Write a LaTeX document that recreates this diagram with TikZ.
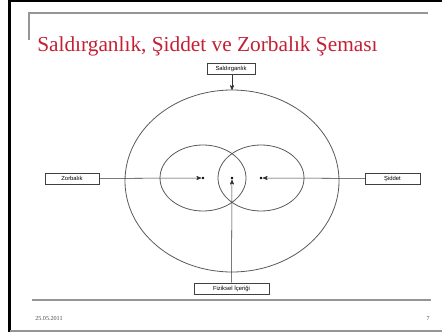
\documentclass[tikz,border=0pt]{standalone}
\usepackage{fontspec}
\setmainfont{Liberation Serif}
\newfontfamily\boxfont{Liberation Sans}
\usetikzlibrary{arrows}
\usetikzlibrary{positioning}
\definecolor{titlered}{RGB}{196,32,52}
\definecolor{rulegray}{RGB}{150,150,150}

\begin{document}
\begin{tikzpicture}[->,>=stealth',x=0.75pt,y=-0.75pt]
		\tikzset{box/.style = {shape=rectangle, draw=black!75, thin, fill=white, inner sep=0pt, minimum height=8.4pt, font=\boxfont\fontsize{4.4}{5}\selectfont},
			dot/.style = {circle, fill=black, inner sep=0pt, minimum size=2.2pt}}
		\useasboundingbox (0,0) rectangle (442,332);
		% slide frame
		\draw[-, line width=2pt] (9.5,0.8) -- (442,0.8);
		\draw[-, line width=2.2pt] (9.5,0) -- (9.5,332);
		\draw[-, rulegray, line width=0.9pt] (9.5,331) -- (442,331);
		\draw[-, rulegray, line width=1.3pt] (29,40) -- (29,13) -- (428,13);
		\draw[-, rulegray, line width=1.3pt] (32,300) -- (431,300);
		\node[anchor=base west, inner sep=0pt, text=titlered, font=\fontsize{16}{18}\selectfont] (TITLE) at (37,51) {Saldırganlık, Şiddet ve Zorbalık Şeması};
		\node[anchor=west, inner sep=0pt, font=\fontsize{4.6}{5}\selectfont, text=black!70] (DATE) at (35,318) {25.05.2011};
		\node[anchor=east, inner sep=0pt, font=\fontsize{4.6}{5}\selectfont, text=black!70] (PAGE) at (430,318) {7};
		% ellipses
		\draw[-, black!65, semithick] (232,181) ellipse [x radius=107, y radius=91];
		\draw[-, black!65, semithick] (203,178) ellipse [x radius=43, y radius=33];
		\draw[-, black!65, semithick] (261,178) ellipse [x radius=43, y radius=33];
		\coordinate (TOP) at (232,90);
		\node[dot] (LDOT) at (203,178) {};
		\node[dot] (MDOT) at (232,178) {};
		\node[dot] (RDOT) at (261,178) {};
		% boxes
		\node[box, minimum width=36pt] (SALDIRGANLIK) at (231,69) {Saldırganlık};
		\node[box, minimum width=40.5pt] (ZORBALIK) at (72,178.5) {Zorbalık};
		\node[box, minimum width=41pt] (SIDDET) at (392.5,178.5) {Şiddet};
		\node[box, minimum width=56pt] (FIZIKSEL) at (231.5,288.5) {Fiziksel İçeriği};
		% arrows
		\draw[black!80] (SALDIRGANLIK.south -| TOP) -- (TOP);
		\draw[black!80] (ZORBALIK) -- (LDOT);
		\draw[black!80] (SIDDET) -- (RDOT);
		\draw[black!80] (FIZIKSEL) -- (MDOT);
		
		\end{tikzpicture}
\end{document}
